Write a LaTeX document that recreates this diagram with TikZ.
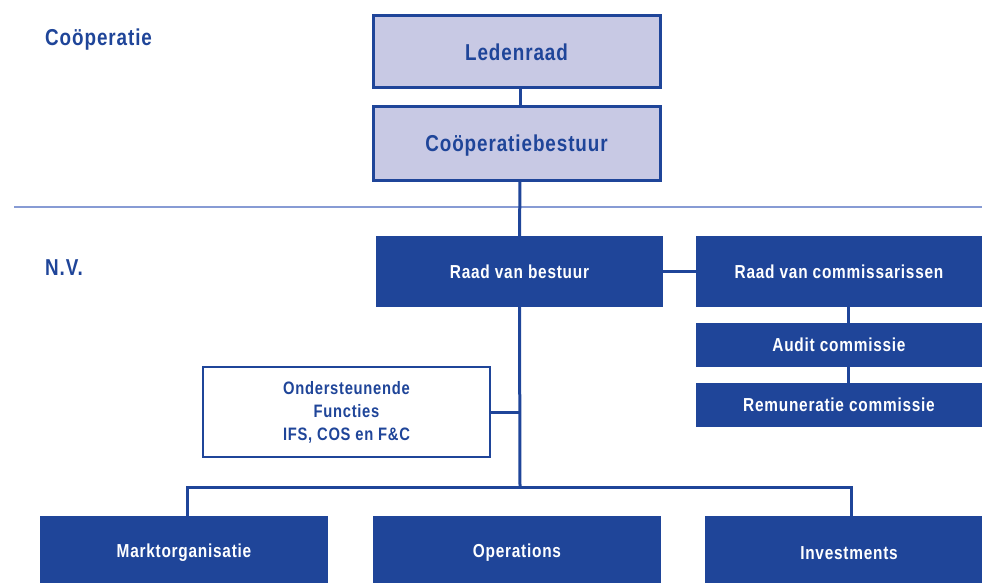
\documentclass[tikz,border=0pt]{standalone}
\usepackage{fontspec}
\setmainfont[FakeStretch=0.82,LetterSpace=4]{Liberation Sans}
\definecolor{dblue}{RGB}{31,69,153}
\definecolor{lfill}{RGB}{200,201,228}
\definecolor{sepline}{RGB}{135,155,212}
\begin{document}
\begin{tikzpicture}[x=1pt,y=-1pt,
  topbox/.style={draw=dblue,line width=3pt,fill=lfill,text=dblue,font=\bfseries\fontsize{23}{26}\selectfont,inner sep=0pt,text depth=0pt},
  darkbox/.style={fill=dblue,text=white,font=\bfseries\fontsize{18.8}{22}\selectfont,inner sep=0pt},
  whitebox/.style={draw=dblue,line width=2.5pt,fill=white,text=dblue,font=\bfseries\fontsize{18}{23}\selectfont,align=center,inner sep=0pt},
  conn/.style={draw=dblue,line width=3pt},
  sidelabel/.style={text=dblue,font=\bfseries\fontsize{23}{26}\selectfont,anchor=west,inner sep=0pt}]
\useasboundingbox (0,0) rectangle (982,583);
\draw[sepline,line width=1.2pt] (14,207) -- (982,207);
\node[sidelabel] (coop) at (45,40) {Coöperatie};
\node[sidelabel] (nv) at (45,268) {N.V.};
\node[topbox,minimum width=287,minimum height=72] (leden) at (516.5,52) {Ledenraad};
\node[topbox,minimum width=287,minimum height=73] (cbest) at (516.5,143.5) {Coöperatiebestuur};
\node[darkbox,minimum width=287,minimum height=71] (rvb) at (519.5,271.5) {Raad van bestuur};
\node[darkbox,minimum width=286,minimum height=71] (rvc) at (839,271.5) {Raad van commissarissen};
\node[darkbox,minimum width=286,minimum height=44] (audit) at (839,345) {Audit commissie};
\node[darkbox,minimum width=286,minimum height=44] (remun) at (839,405) {Remuneratie commissie};
\node[whitebox,minimum width=287,minimum height=90] (onder) at (346.5,412) {Ondersteunende\\Functies\\IFS, COS en F\&C};
\node[darkbox,minimum width=288,minimum height=74] (markt) at (184,553) {Marktorganisatie};
\node[darkbox,minimum width=288,minimum height=74] (oper) at (517,553) {Operations};
\node[darkbox,minimum width=288,minimum height=74] (inv) at (849,553) {Investments};
\coordinate (junc) at (520,487);
\coordinate (jl) at (187,487);
\coordinate (jr) at (851,487);
\coordinate (ojoin) at (520,412);
\draw[conn] (520,88) -- (520,107);
\draw[conn] (520,180) -- (rvb.north);
\draw[conn] (rvb.east) -- (rvc.west);
\draw[conn] (848,307) -- (848,323);
\draw[conn] (848,367) -- (848,383);
\draw[conn] (rvb.south) -- (junc);
\draw[conn] (onder.east) -- (ojoin);
\draw[conn] (jl |- markt.north) -- (jl) -- (jr) -- (jr |- inv.north);
\end{tikzpicture}
\end{document}
